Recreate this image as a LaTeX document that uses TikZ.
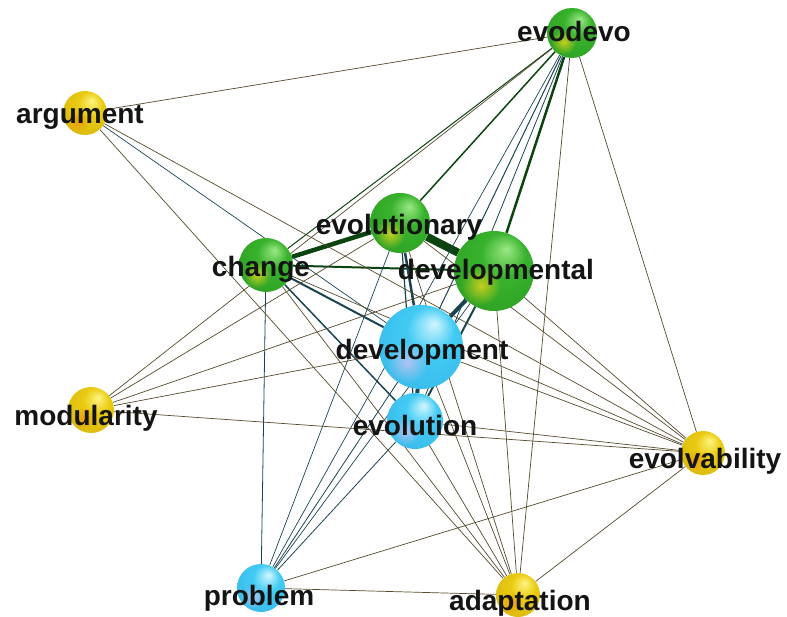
\documentclass[tikz,border=0pt]{standalone}
\usepackage{fontspec}
\setmainfont{Liberation Sans}
\usetikzlibrary{backgrounds,fadings}
\definecolor{GHi}{HTML}{9AE884}
\definecolor{GMid}{HTML}{38B22C}
\definecolor{GRim}{HTML}{126E10}
\definecolor{BHi}{HTML}{D2F6FF}
\definecolor{BMid}{HTML}{42CBF4}
\definecolor{BRim}{HTML}{1C86CC}
\definecolor{YHi}{HTML}{FFF480}
\definecolor{YMid}{HTML}{EACB12}
\definecolor{YRim}{HTML}{A88200}
\definecolor{GlowG}{HTML}{DCD41E}
\definecolor{GlowB}{HTML}{C6C2F2}
\definecolor{GlowY}{HTML}{F0960E}
\definecolor{EGreen}{HTML}{0C4410}
\definecolor{ETeal}{HTML}{1A4452}
\definecolor{EOlive}{HTML}{544A2C}
\definecolor{VInk}{HTML}{141414}
\pgfdeclareradialshading{gball}{\pgfpoint{8bp}{14bp}}{color(0bp)=(GHi); color(14bp)=(GMid); color(34bp)=(GMid!75!GRim); color(50bp)=(GRim)}
\pgfdeclareradialshading{bball}{\pgfpoint{8bp}{14bp}}{color(0bp)=(BHi); color(14bp)=(BMid); color(34bp)=(BMid!75!BRim); color(50bp)=(BRim)}
\pgfdeclareradialshading{yball}{\pgfpoint{8bp}{14bp}}{color(0bp)=(YHi); color(14bp)=(YMid); color(34bp)=(YMid!75!YRim); color(50bp)=(YRim)}
\tikzfading[name=glowfade,inner color=transparent!0,outer color=transparent!100]

\begin{document}
\begin{tikzpicture}[x=1pt,y=-1pt,
  gsph/.style={circle,inner sep=0pt,shading=gball,minimum size=#1},
  bsph/.style={circle,inner sep=0pt,shading=bball,minimum size=#1},
  ysph/.style={circle,inner sep=0pt,shading=yball,minimum size=#1},
  lbl/.style={anchor=base,inner sep=0pt,text=VInk,font=\fontsize{28}{30}\selectfont\bfseries},
  eg/.style={draw=EGreen,line width=#1},
  et/.style={draw=ETeal,line width=#1},
  eo/.style={draw=EOlive,line width=#1},
  eo/.default=0.7pt
]
  \useasboundingbox (0,0) rectangle (787,617);

  % spheres
  \node[gsph=50] (evodevo) at (572,33) {};
  \node[ysph=44] (argument) at (85,113) {};
  \node[gsph=54] (change) at (266,265) {};
  \node[gsph=60] (evolutionary) at (400,223) {};
  \node[gsph=80] (developmental) at (494,271) {};
  \node[bsph=84] (development) at (421,347) {};
  \node[bsph=56] (evolution) at (415,421) {};
  \node[ysph=46] (modularity) at (91,410) {};
  \node[ysph=44] (evolvability) at (703,453) {};
  \node[bsph=48] (problem) at (261,588) {};
  \node[ysph=44] (adaptation) at (518,595) {};

  \foreach \n/\r/\c in {evodevo/25/GlowG,change/27/GlowG,evolutionary/30/GlowG,
      developmental/40/GlowG,development/42/GlowB,evolution/28/GlowB,problem/24/GlowB,
      argument/22/GlowY,modularity/23/GlowY,evolvability/22/GlowY,adaptation/22/GlowY}
    \fill[\c,opacity=0.85,path fading=glowfade]
      ([shift={(-0.33*\r,0.36*\r)}]\n.center) circle (0.5*\r);

  % links
  \begin{scope}[on background layer]
    \foreach \a/\b/\w in {evolutionary/developmental/8pt,change/evolutionary/4.5pt,
        evodevo/developmental/2.5pt,change/developmental/2pt,
        evodevo/evolutionary/1.5pt,evodevo/change/1pt}
      \draw[eg=\w] (\a) -- (\b);
    \foreach \a/\b/\w in {developmental/development/4pt,development/evolution/4pt,
        evolutionary/development/2.5pt,developmental/evolution/2pt,
        change/development/2pt,change/evolution/1.5pt,evolutionary/evolution/1.2pt,
        evodevo/development/1pt,evodevo/evolution/0.8pt,evodevo/problem/0.7pt,
        change/problem/0.8pt,evolutionary/problem/0.7pt,developmental/problem/0.7pt,
        development/problem/0.8pt,evolution/problem/0.8pt,argument/development/0.7pt}
      \draw[et=\w] (\a) -- (\b);
    \foreach \a/\b in {argument/evodevo,argument/adaptation,argument/evolvability,
        evodevo/modularity,evodevo/adaptation,evodevo/evolvability,
        change/adaptation,change/evolvability,
        modularity/evolutionary,modularity/developmental,modularity/development,
        modularity/evolvability,evolutionary/adaptation,evolutionary/evolvability,
        developmental/adaptation,developmental/evolvability,
        development/adaptation,development/evolvability,
        evolution/adaptation,evolution/evolvability,
        problem/adaptation,problem/evolvability,adaptation/evolvability}
      \draw[eo] (\a) -- (\b);
  \end{scope}

  % labels
  \node[lbl] (evodevo-t) at (574,42) {evodevo};
  \node[lbl] (argument-t) at (80,124) {argument};
  \node[lbl] (change-t) at (261,277) {change};
  \node[lbl] (evolutionary-t) at (399,235) {evolutionary};
  \node[lbl] (developmental-t) at (496,280) {developmental};
  \node[lbl] (development-t) at (422,360) {development};
  \node[lbl] (evolution-t) at (415,435) {evolution};
  \node[lbl] (modularity-t) at (86,425) {modularity};
  \node[lbl] (evolvability-t) at (705,468) {evolvability};
  \node[lbl] (problem-t) at (259,605) {problem};
  \node[lbl] (adaptation-t) at (520,610) {adaptation};
\end{tikzpicture}
\end{document}
